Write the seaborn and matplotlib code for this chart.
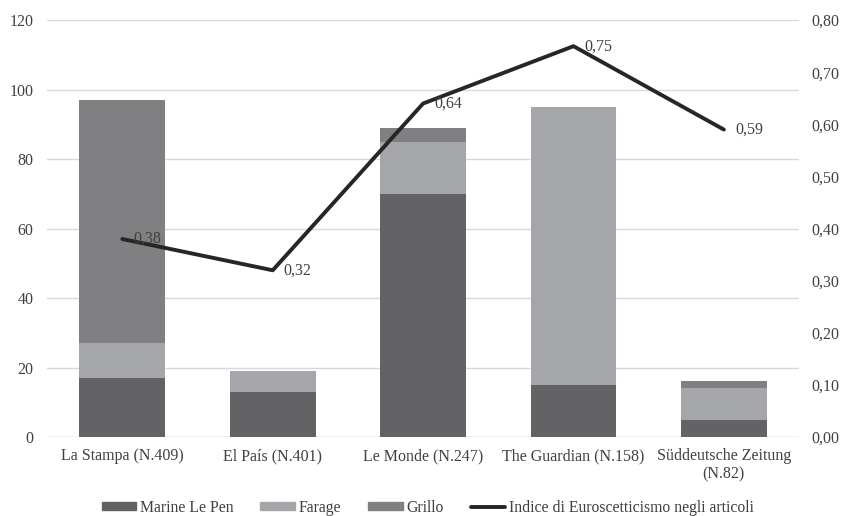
from matplotlib import pyplot as plt
from matplotlib.patches import Patch
from matplotlib.lines import Line2D
import pandas as pd
import seaborn as sns

# data
papers = ['La Stampa (N.409)', 'El País (N.401)', 'Le Monde (N.247)',
          'The Guardian (N.158)', 'Süddeutsche Zeitung\n(N.82)']
le_pen = [17, 13, 70, 15, 5]
farage = [10, 6, 15, 80, 9]
grillo = [70, 0, 4, 0, 2]
indice = [0.38, 0.32, 0.64, 0.75, 0.59]

c_lepen = '#636365'
c_farage = '#a5a6a9'
c_grillo = '#808083'

sns.set_style('white')
plt.rcParams['font.family'] = ['Liberation Serif', 'DejaVu Serif']

df = pd.DataFrame({'paper': papers, 'le_pen': le_pen, 'farage': farage, 'grillo': grillo})
df['top_farage'] = df['le_pen'] + df['farage']
df['top_grillo'] = df['top_farage'] + df['grillo']

fig = plt.figure(figsize=(8.42, 5.16), dpi=100)
ax = fig.add_axes([0.056, 0.153, 0.893, 0.808])

# stacked bars drawn as overlaid cumulative totals
for col, c in [('top_grillo', c_grillo), ('top_farage', c_farage), ('le_pen', c_lepen)]:
    sns.barplot(data=df, x='paper', y=col, color=c, width=0.57, saturation=1,
                linewidth=0, ax=ax)

ax.set_ylim(0, 120)
ax.set_yticks(range(0, 121, 20))
ax.set_xlim(-0.5, 4.5)
ax.grid(axis='y', color='#d9d9d9', linewidth=1)
ax.set_axisbelow(True)
for s in ax.spines.values():
    s.set_visible(False)
ax.axhline(0, color='#d9d9d9', linewidth=1, zorder=0.5)
ax.set_xlabel('')
ax.set_ylabel('')
ax.tick_params(axis='x', length=0, labelsize=11.5, colors='#404040', pad=8)
ax.tick_params(axis='y', length=0, labelsize=11.5, colors='#404040', pad=10)

# line on the secondary axis
ax2 = ax.twinx()
line_df = pd.DataFrame({'pos': range(len(papers)), 'indice': indice})
sns.lineplot(data=line_df, x='pos', y='indice', color='#262626', linewidth=2.8, ax=ax2)
ax2.set_ylim(0, 0.8)
ax2.set_yticks([i / 10 for i in range(9)])
ax2.set_yticklabels([f'{i / 10:.2f}'.replace('.', ',') for i in range(9)])
ax2.set_xlim(-0.5, 4.5)
ax2.set_ylabel('')
for s in ax2.spines.values():
    s.set_visible(False)
ax2.tick_params(axis='y', length=0, labelsize=11.5, colors='#404040', pad=9)

for i, v in enumerate(indice):
    ax2.annotate(f'{v:.2f}'.replace('.', ','), (i, v), xytext=(8, 0),
                 textcoords='offset points', va='center', ha='left',
                 fontsize=11.5, color='#404040')

handles = [Patch(color=c_lepen), Patch(color=c_farage), Patch(color=c_grillo),
           Line2D([], [], color='#262626', linewidth=2.8)]
labels = ['Marine Le Pen', 'Farage', 'Grillo', 'Indice di Euroscetticismo negli articoli']
fig.legend(handles, labels, loc='center', ncol=4, frameon=False,
           bbox_to_anchor=(0.508, 0.016), fontsize=11.3, handlelength=2.2,
           handleheight=0.45, handletextpad=0.25, columnspacing=1.7,
           labelcolor='#404040')

fig.savefig('out.png', dpi=100)
